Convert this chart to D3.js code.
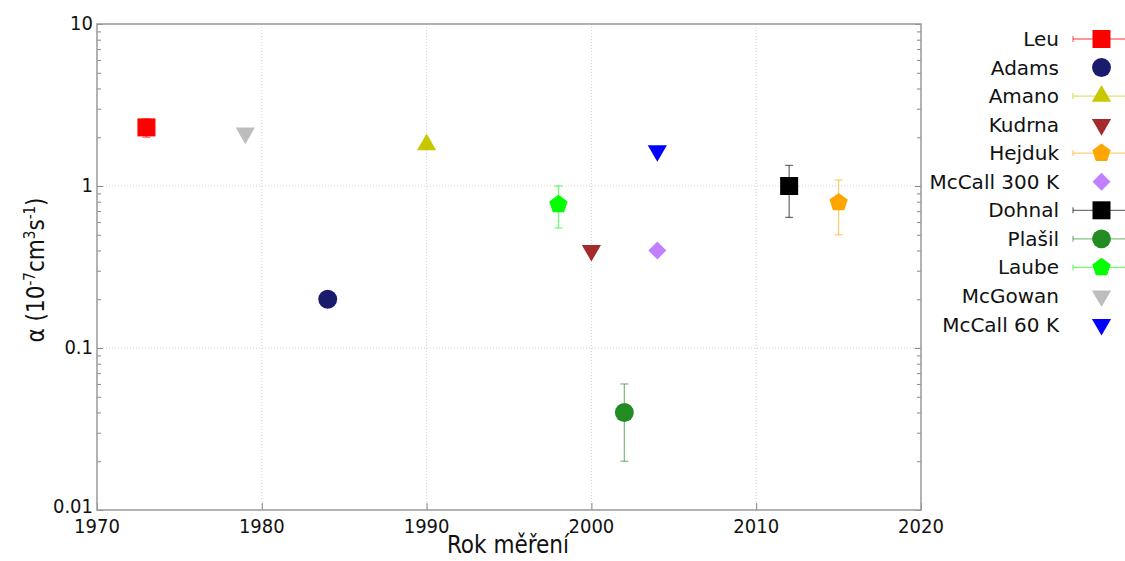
<!DOCTYPE html>
<html><head><meta charset="utf-8">
<script src="https://cdn.jsdelivr.net/npm/d3@7"></script>
<style>body{margin:0;background:#fff}svg{display:block}</style>
</head><body>
<svg id="c" width="1125" height="561"></svg>
<script>
// ---- data ----
const seriesNames = ["Leu","Adams","Amano","Kudrna","Hejduk","McCall 300 K","Dohnal","Plašil","Laube","McGowan","McCall 60 K"];
const years      = [1973, 1984, 1990, 2000, 2015, 2004, 2012, 2002, 1998, 1979, 2004];
const values     = [2.3, 0.2, 1.8, 0.4, 0.79, 0.4, 1.0, 0.04, 0.77, 2.12, 1.65];
const errLow     = [2.0, null, 1.8, null, 0.5, null, 0.64, 0.02, 0.55, null, null];
const errHigh    = [2.6, null, 1.8, null, 1.09, null, 1.34, 0.06, 1.0, null, null];
const hasErr     = [true,false,true,false,true,false,true,true,true,false,false];
const shapes     = ["square","circle","triUp","triDown","pentagon","diamond","square","circle","pentagon","triDown","triDown"];
const colors     = ["#ff0000","#1b1b6e","#c8c800","#a52a2a","#ffa500","#c080ff","#000000","#228b22","#00ff00","#bdbdbd","#0000ff"];
const xTicks = [1970,1980,1990,2000,2010,2020];
const yTicks = [0.01,0.1,1,10];
const yTickLabels = ["0.01","0.1","1","10"];

const svg = d3.select("#c");
const L=97, R=921, T=24, B=510;
const x = d3.scaleLinear().domain([1970,2020]).range([L,R]);
const y = d3.scaleLog().domain([0.01,10]).range([B,T]);

// grid
const g = svg.append("g");
g.selectAll(".gx").data(xTicks.slice(1,-1)).enter().append("line")
 .attr("x1",d=>x(d)).attr("x2",d=>x(d)).attr("y1",T).attr("y2",B)
 .attr("stroke","#d0d0d0").attr("stroke-dasharray","1,2");
g.selectAll(".gy").data(yTicks.slice(1,-1)).enter().append("line")
 .attr("y1",d=>y(d)).attr("y2",d=>y(d)).attr("x1",L).attr("x2",R)
 .attr("stroke","#d0d0d0").attr("stroke-dasharray","1,2");

// axes with inward ticks
const minor = [];
[0.01,0.1,1].forEach(dec=>{for(let k=2;k<=9;k++) minor.push(dec*k);});
const axL = d3.axisRight(y).tickValues(yTicks).tickSize(6).tickFormat("");
const axLm = d3.axisRight(y).tickValues(minor).tickSize(4).tickFormat("");
const axR = d3.axisLeft(y).tickValues(yTicks).tickSize(6).tickFormat("");
const axRm = d3.axisLeft(y).tickValues(minor).tickSize(4).tickFormat("");
const axB = d3.axisTop(x).tickValues(xTicks).tickSize(7).tickFormat("");
function styleAx(s){s.select(".domain").remove();s.selectAll("line").attr("stroke","#888");}
svg.append("g").attr("transform",`translate(${L},0)`).call(axL).call(styleAx);
svg.append("g").attr("transform",`translate(${L},0)`).call(axLm).call(styleAx);
svg.append("g").attr("transform",`translate(${R},0)`).call(axR).call(styleAx);
svg.append("g").attr("transform",`translate(${R},0)`).call(axRm).call(styleAx);
svg.append("g").attr("transform",`translate(0,${B})`).call(axB).call(styleAx);
svg.append("rect").attr("x",L).attr("y",T).attr("width",R-L).attr("height",B-T)
 .attr("fill","none").attr("stroke","#999").attr("stroke-width",1.5);

// tick labels
const tf = "'DejaVu Sans Condensed','DejaVu Sans',sans-serif";
svg.selectAll(".xl").data(xTicks).enter().append("text")
 .attr("x",d=>x(d)).attr("y",B+23).attr("text-anchor","middle")
 .attr("font-family",tf).attr("font-size",20).attr("fill","#111").text(d=>d);
svg.selectAll(".yl").data(yTicks).enter().append("text")
 .attr("x",L-4).attr("y",(d,i)=>y(d)+(i===0?3:6)).attr("text-anchor","end")
 .attr("font-family",tf).attr("font-size",20).attr("fill","#111").text((d,i)=>yTickLabels[i]);

// axis titles
svg.append("text").attr("x",(L+R)/2 - 1).attr("y",553).attr("text-anchor","middle")
 .attr("font-family",tf).attr("font-size",24).attr("fill","#111").text("Rok měření");
const yt = svg.append("text").attr("transform","translate(44,270) rotate(-90)").attr("text-anchor","middle")
 .attr("font-family",tf).attr("font-size",24).attr("fill","#111");
yt.append("tspan").text("α (10");
yt.append("tspan").attr("font-size",15).attr("dy",-9).text("-7");
yt.append("tspan").attr("dy",9).text("cm");
yt.append("tspan").attr("font-size",15).attr("dy",-9).text("3");
yt.append("tspan").attr("dy",9).text("s");
yt.append("tspan").attr("font-size",15).attr("dy",-9).text("-1");
yt.append("tspan").attr("dy",9).text(")");

// symbols
const pentagon = {draw(ctx,size){const r=Math.sqrt(size/2.378);for(let i=0;i<5;i++){const a=-Math.PI/2+i*2*Math.PI/5;const px=r*Math.cos(a),py=r*Math.sin(a);i?ctx.lineTo(px,py):ctx.moveTo(px,py);}ctx.closePath();}};
function symPath(shape){
  switch(shape){
    case "square": return {p:d3.symbol(d3.symbolSquare,324)(),rot:0};
    case "circle": return {p:d3.symbol(d3.symbolCircle,280)(),rot:0};
    case "triUp": return {p:d3.symbol(d3.symbolTriangle,160)(),rot:0};
    case "triDown": return {p:d3.symbol(d3.symbolTriangle,160)(),rot:180};
    case "pentagon": return {p:d3.symbol(pentagon,220)(),rot:0};
    case "diamond": return {p:d3.symbol(d3.symbolSquare,162)(),rot:45};
  }
}
const idx = d3.range(seriesNames.length);
// error bars
idx.filter(i=>hasErr[i]).forEach(i=>{
  const gg = svg.append("g").attr("stroke",colors[i]).attr("stroke-opacity",0.55).attr("stroke-width",1.3);
  const cx=x(years[i]);
  gg.append("line").attr("x1",cx).attr("x2",cx).attr("y1",y(errLow[i])).attr("y2",y(errHigh[i]));
  [errLow[i],errHigh[i]].forEach(v=>gg.append("line").attr("x1",cx-4).attr("x2",cx+4).attr("y1",y(v)).attr("y2",y(v)));
});
idx.forEach(i=>{
  const s=symPath(shapes[i]);
  svg.append("path").attr("d",s.p).attr("fill",colors[i])
   .attr("transform",`translate(${x(years[i])},${y(values[i])}) rotate(${s.rot})`);
});

// legend
const legY = d3.scaleLinear().domain([0,10]).range([39,324.5]);
idx.forEach(i=>{
  const ly=legY(i);
  if(hasErr[i]){
    const gg=svg.append("g").attr("stroke",colors[i]).attr("stroke-opacity",0.55).attr("stroke-width",1.3);
    gg.append("line").attr("x1",1073).attr("x2",1125).attr("y1",ly).attr("y2",ly);
    gg.append("line").attr("x1",1073).attr("x2",1073).attr("y1",ly-3).attr("y2",ly+3);
  }
  const s=symPath(shapes[i]);
  svg.append("path").attr("d",s.p).attr("fill",colors[i])
   .attr("transform",`translate(1101.5,${ly}) rotate(${s.rot})`);
  svg.append("text").attr("x",1059).attr("y",ly+7).attr("text-anchor","end")
   .attr("font-family","'DejaVu Sans',sans-serif").attr("font-size",20).attr("fill","#111").text(seriesNames[i]);
});
</script>
</body></html>
